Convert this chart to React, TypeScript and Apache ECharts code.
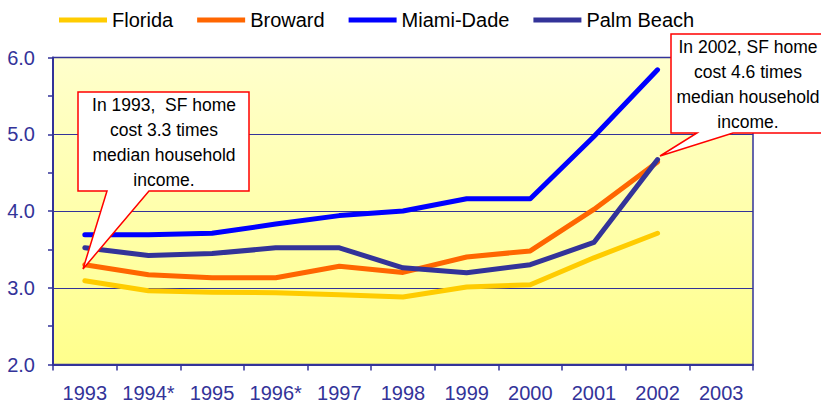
import React, { useEffect, useRef } from "react";
import * as echarts from "echarts";

const years = ["1993", "1994*", "1995", "1996*", "1997", "1998", "1999", "2000", "2001", "2002", "2003"];
const florida = [3.09, 2.96, 2.94, 2.935, 2.91, 2.88, 3.01, 3.04, 3.39, 3.71, null];
const broward = [3.30, 3.17, 3.13, 3.13, 3.28, 3.20, 3.40, 3.48, 4.02, 4.64, null];
const miamiDade = [3.69, 3.69, 3.71, 3.83, 3.94, 4.00, 4.16, 4.16, 4.97, 5.84, null];
const palmBeach = [3.52, 3.42, 3.445, 3.52, 3.52, 3.26, 3.195, 3.30, 3.59, 4.67, null];

const seriesNames = ["Florida", "Broward", "Miami-Dade", "Palm Beach"];
const seriesColors = ["#FFCC00", "#FF6600", "#0000FF", "#333399"];
const seriesData = [florida, broward, miamiDade, palmBeach];

const note1 = "In 1993,  SF home\ncost 3.3 times\nmedian household\nincome.";
const note2 = "In 2002, SF home\ncost 4.6 times\nmedian household\nincome.";

const FONT = "'Liberation Sans', Arial, sans-serif";
const AXIS = "#333399";

export default function App() {
  const ref = useRef<HTMLDivElement>(null);
  useEffect(() => {
    if (!ref.current) return;
    const chart = echarts.init(ref.current, null, { renderer: "svg" });
    chart.setOption({
      animation: false,
      textStyle: { fontFamily: FONT },
      legend: {
        top: 5,
        left: 54,
        icon: "rect",
        itemWidth: 48,
        itemHeight: 5,
        itemGap: 24,
        textStyle: { fontSize: 20, color: "#000", fontFamily: FONT },
        data: seriesNames,
      },
      grid: {
        left: 53,
        top: 57.5,
        width: 700,
        height: 307,
        containLabel: false,
        outerBoundsMode: "none",
        show: true,
        borderColor: AXIS,
        borderWidth: 1.5,
        backgroundColor: {
          type: "linear",
          x: 0,
          y: 0,
          x2: 0,
          y2: 1,
          colorStops: [
            { offset: 0, color: "#FFFFCC" },
            { offset: 1, color: "#FFFF8C" },
          ],
        },
      },
      xAxis: {
        type: "category",
        data: years,
        boundaryGap: true,
        axisLine: { lineStyle: { color: AXIS, width: 2 } },
        axisTick: { show: true, interval: 0, length: 6, lineStyle: { color: AXIS, width: 1.5 } },
        axisLabel: { interval: 0, fontSize: 20, color: AXIS, margin: 18, fontFamily: FONT },
        splitLine: { show: false },
      },
      yAxis: {
        type: "value",
        min: 2,
        max: 6,
        interval: 1,
        axisLine: { show: true, lineStyle: { color: AXIS, width: 2 } },
        axisTick: { show: true, length: 5, lineStyle: { color: AXIS, width: 1.5 } },
        minorTick: { show: true, splitNumber: 2, length: 5, lineStyle: { color: AXIS, width: 1.5 } },
        axisLabel: {
          fontSize: 20,
          color: AXIS,
          margin: 18,
          fontFamily: FONT,
          formatter: (v: number) => v.toFixed(1),
        },
        splitLine: { show: true, lineStyle: { color: AXIS, width: 1 } },
      },
      series: seriesNames.map((name, i) => ({
        name,
        type: "line",
        data: seriesData[i],
        symbol: "none",
        color: seriesColors[i],
        itemStyle: { color: seriesColors[i] },
        lineStyle: { width: 5, color: seriesColors[i], cap: "round", join: "round" },
        z: 2 + i,
      })),
      graphic: [
        {
          type: "polygon",
          z: 100,
          shape: {
            points: [
              [78, 92], [249, 92], [249, 191], [149, 191], [83, 269], [107, 191], [78, 191],
            ],
          },
          style: { fill: "#FFFFFF", stroke: "#FF0000", lineWidth: 1.5 },
        },
        {
          type: "text",
          z: 101,
          x: 164,
          y: 92.5,
          style: {
            text: note1,
            font: `17.5px ${FONT}`,
            fill: "#000",
            align: "center",
            verticalAlign: "top",
            lineHeight: 25,
          },
        },
        {
          type: "polygon",
          z: 100,
          shape: {
            points: [
              [671, 34], [825, 34], [825, 133], [733, 133], [660, 156], [697, 133], [671, 133],
            ],
          },
          style: { fill: "#FFFFFF", stroke: "#FF0000", lineWidth: 1.5 },
        },
        {
          type: "text",
          z: 101,
          x: 748,
          y: 34.5,
          style: {
            text: note2,
            font: `17.5px ${FONT}`,
            fill: "#000",
            align: "center",
            verticalAlign: "top",
            lineHeight: 25,
          },
        },
      ],
    });
    return () => chart.dispose();
  }, []);
  return (
    <div
      ref={ref}
      style={{ position: "fixed", left: 0, top: 0, width: 821, height: 404, background: "#fff" }}
    />
  );
}
